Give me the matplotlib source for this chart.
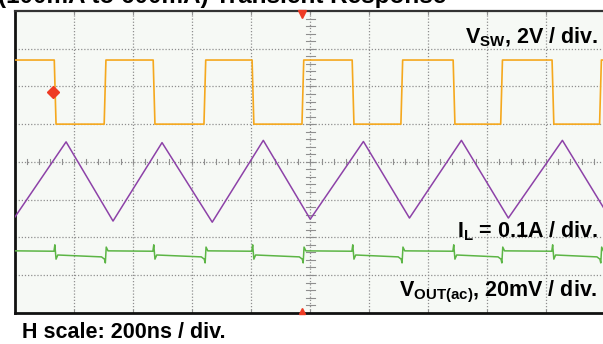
import matplotlib
matplotlib.use("Agg")
import matplotlib.pyplot as plt
import numpy as np

plt.rcParams['font.family'] = ['Liberation Sans', 'DejaVu Sans']
plt.rcParams['mathtext.fontset'] = 'custom'
plt.rcParams['mathtext.rm'] = 'Liberation Sans:bold'
plt.rcParams['mathtext.bf'] = 'Liberation Sans:bold'
plt.rcParams['mathtext.it'] = 'Liberation Sans:bold'

# time base: 200 ns / div, 10 div ; vertical: 8 div (values below in screen divisions)
t_span = 2000
n_vdiv = 8

# V_SW switching edges (ns) and levels (div)
sw_fall = [135, 470, 805, 1144, 1486, 1821]
sw_rise = [305, 643, 975, 1310, 1648, 1983]
sw_high = 6.70
sw_low = 5.00

# inductor current vertices (ns, div)
il_t = [0, 173, 332, 498, 668, 841, 1000, 1180, 1336, 1512, 1671, 1854, 2000]
il_v = [2.54, 4.53, 2.43, 4.51, 2.40, 4.57, 2.48, 4.54, 2.51, 4.57, 2.51, 4.57, 2.70]

# output ripple: levels per phase and glitch shape at each edge (ns offset, div)
vo_high = 1.64
vo_low = 1.52
vo_fall_dt = [-3, 0, 4, 10]
vo_fall_v = [1.63, 1.80, 1.42, 1.53]
vo_rise_dt = [-12, -2, 1, 4, 10]
vo_rise_v = [1.48, 1.42, 1.32, 1.74, 1.64]

# markers
diamond_t, diamond_v = 129, 5.85
trig_t = 972

# build traces from the edges
edges = sorted([(t, 'f') for t in sw_fall] + [(t, 'r') for t in sw_rise])
sw_x, sw_y = [0], [sw_high]
vo_x, vo_y = [0], [vo_high]
for t, k in edges:
    if k == 'f':
        sw_x += [t - 2, t + 4]
        sw_y += [sw_high, sw_low]
        vo_x += [t + d for d in vo_fall_dt]
        vo_y += vo_fall_v
    else:
        sw_x += [t - 3, t + 3]
        sw_y += [sw_low, sw_high]
        vo_x += [t + d for d in vo_rise_dt]
        vo_y += vo_rise_v
sw_x.append(t_span)
sw_y.append(sw_y[-1])
vo_x.append(t_span)
vo_y.append(vo_low)

fig = plt.figure(figsize=(6.03, 3.44), dpi=100)
ax = fig.add_axes([15 / 603, 31.3 / 344, 590.5 / 603, 301.7 / 344])
ax.set_facecolor('#f6f9f5')
ax.set_xlim(0, t_span)
ax.set_ylim(0, n_vdiv)

grid_col = '#8f8f8f'
for i in range(1, 10):
    ax.axvline(i * 200, color=grid_col, lw=0.9, ls=(0, (1, 1.5)), zorder=1)
for j in range(1, 8):
    ax.axhline(j, color=grid_col, lw=0.9, ls=(0, (1, 1.5)), zorder=1)
# centre cross minor ticks
for i in range(1, 50):
    x = i * 40
    ax.plot([x, x], [3.93, 4.07], color=grid_col, lw=0.8, zorder=1)
for j in range(1, 40):
    y = j * 0.2
    ax.plot([985, 1015], [y, y], color=grid_col, lw=0.8, zorder=1)
for i in range(1, 10):
    ax.plot([i * 200, i * 200], [7.93, 8], color=grid_col, lw=0.8, zorder=1)
    ax.plot([i * 200, i * 200], [0, 0.07], color=grid_col, lw=0.8, zorder=1)

ax.plot(sw_x, sw_y, color='#f5a81e', lw=1.2, zorder=3)
ax.plot(il_t, il_v, color='#8d42a8', lw=1.1, zorder=3)
ax.plot(vo_x, vo_y, color='#5cb545', lw=1.1, zorder=3)

ax.plot(diamond_t, diamond_v, marker='D', color='#ee3b24', ms=6, zorder=4)
ax.plot(trig_t, 7.93, marker='v', color='#ee3b24', ms=6, clip_on=False, zorder=4)
ax.plot(trig_t, 0.05, marker='^', color='#ee3b24', ms=4, clip_on=False, zorder=4)

ax.set_xticks([])
ax.set_yticks([])
ax.spines['left'].set_linewidth(2)
ax.spines['left'].set_color('#111111')
ax.spines['bottom'].set_linewidth(2)
ax.spines['bottom'].set_color('#111111')
ax.spines['top'].set_linewidth(1.6)
ax.spines['top'].set_color('#333333')
ax.spines['right'].set_visible(False)

fs = 15.5
# title is cut off at the top edge, as in the original capture
fig.text(-2 / 603, 1 - 3.5 / 344, '(100mA to 600mA) Transient Response',
         fontsize=17.5, fontweight='bold', va='baseline', ha='left')
fig.text(598 / 603, 1 - 43 / 344, r'V$_{\rm SW}$, 2V / div.',
         fontsize=fs, fontweight='bold', va='baseline', ha='right')
fig.text(598 / 603, 1 - 237 / 344, r'I$_{\rm L}$ = 0.1A / div.',
         fontsize=fs, fontweight='bold', va='baseline', ha='right')
fig.text(598 / 603, 1 - 296.5 / 344, r'V$_{\rm OUT(ac)}$, 20mV / div.',
         fontsize=fs, fontweight='bold', va='baseline', ha='right')
fig.text(22 / 603, 1 - 338 / 344, 'H scale: 200ns / div.',
         fontsize=fs, fontweight='bold', va='baseline', ha='left')

fig.savefig('out.png', dpi=100)
